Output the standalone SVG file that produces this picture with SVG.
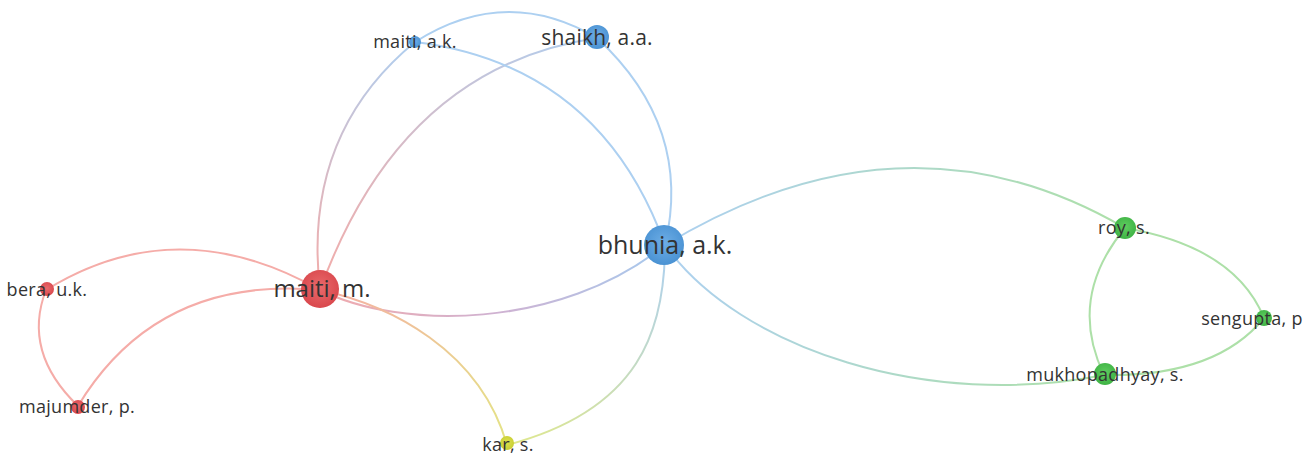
<svg xmlns="http://www.w3.org/2000/svg" width="1311" height="455" viewBox="0 0 1311 455">
  <style>
    .edge { fill: none; stroke-linecap: round; stroke-width: 2; }
    .red-e { stroke: #f5aca8; }
    .blue-e { stroke: #add0f1; }
    .green-e { stroke: #ade0a8; }
    .lbl { font-family: "Open Sans", "Noto Sans", "DejaVu Sans", sans-serif; fill: #333333; text-anchor: middle; }
    .s { font-size: 18px; letter-spacing: 0.3px; }
    .m { font-size: 21px; letter-spacing: 0.2px; }
    .mm { font-size: 24px; }
    .l { font-size: 25px; }
  </style>
  <defs>
    <radialGradient id="nRed" cx="50%" cy="45%" r="55%">
      <stop offset="0" stop-color="#ea6a6c"/>
      <stop offset="1" stop-color="#d9484d"/>
    </radialGradient>
    <radialGradient id="nBlue" cx="50%" cy="45%" r="55%">
      <stop offset="0" stop-color="#6eaee6"/>
      <stop offset="1" stop-color="#4a92d3"/>
    </radialGradient>
    <radialGradient id="nGreen" cx="50%" cy="45%" r="55%">
      <stop offset="0" stop-color="#5fcd5f"/>
      <stop offset="1" stop-color="#3fb345"/>
    </radialGradient>
    <radialGradient id="nYellow" cx="50%" cy="45%" r="55%">
      <stop offset="0" stop-color="#dde24e"/>
      <stop offset="1" stop-color="#c8cd33"/>
    </radialGradient>
    <linearGradient id="gMmAk" gradientUnits="userSpaceOnUse" x1="320" y1="290" x2="415" y2="42">
      <stop offset="0" stop-color="#f3aca9"/>
      <stop offset="1" stop-color="#afcff0"/>
    </linearGradient>
    <linearGradient id="gMmSh" gradientUnits="userSpaceOnUse" x1="320" y1="290" x2="597" y2="38">
      <stop offset="0" stop-color="#f3aca9"/>
      <stop offset="1" stop-color="#afcff0"/>
    </linearGradient>
    <linearGradient id="gMmBh" gradientUnits="userSpaceOnUse" x1="320" y1="290" x2="665" y2="245">
      <stop offset="0" stop-color="#f1aaac"/>
      <stop offset="0.5" stop-color="#cfb2d2"/>
      <stop offset="1" stop-color="#a6caee"/>
    </linearGradient>
    <linearGradient id="gMmKar" gradientUnits="userSpaceOnUse" x1="320" y1="290" x2="507" y2="445">
      <stop offset="0" stop-color="#f5aea4"/>
      <stop offset="1" stop-color="#e4e486"/>
    </linearGradient>
    <linearGradient id="gBhKar" gradientUnits="userSpaceOnUse" x1="665" y1="245" x2="507" y2="445">
      <stop offset="0" stop-color="#add0f1"/>
      <stop offset="1" stop-color="#e0e88b"/>
    </linearGradient>
    <linearGradient id="gBhRoy" gradientUnits="userSpaceOnUse" x1="665" y1="245" x2="1125" y2="228">
      <stop offset="0" stop-color="#add0f1"/>
      <stop offset="1" stop-color="#ade0a8"/>
    </linearGradient>
    <linearGradient id="gBhMuk" gradientUnits="userSpaceOnUse" x1="665" y1="245" x2="1104" y2="375">
      <stop offset="0" stop-color="#add0f1"/>
      <stop offset="1" stop-color="#ade0a8"/>
    </linearGradient>
  </defs>

  <!-- links -->
  <g id="links">
    <path class="edge blue-e" d="M415,42 Q506,-16 597,38"/>
    <path class="edge" stroke="url(#gMmAk)" d="M320,290 Q302,135 415,42"/>
    <path class="edge" stroke="url(#gMmSh)" d="M320,290 Q401,67 597,38"/>
    <path class="edge blue-e" d="M415,42 Q600,65 665,245"/>
    <path class="edge blue-e" stroke-width="3.5" d="M597,38 Q693,127 665,245"/>
    <path class="edge" stroke="url(#gMmBh)" stroke-width="4.5" d="M320,290 C400,330 560,330 665,245"/>
    <path class="edge" stroke="url(#gMmKar)" d="M320,290 C390,305 480,350 507,445"/>
    <path class="edge" stroke="url(#gBhKar)" d="M665,245 C665,330 640,410 507,445"/>
    <path class="edge red-e" d="M46,290 Q177,209 320,290"/>
    <path class="edge red-e" d="M78,406 C130,320 210,280 320,290"/>
    <path class="edge red-e" d="M46,290 Q22,352 78,406"/>
    <path class="edge" stroke="url(#gBhRoy)" d="M665,245 Q905,100 1125,228"/>
    <path class="edge" stroke="url(#gBhMuk)" d="M665,245 C740,350 930,410 1104,375"/>
    <path class="edge green-e" d="M1125,228 Q1067,298 1104,375"/>
    <path class="edge green-e" d="M1125,228 Q1235,247 1264,318"/>
    <path class="edge green-e" d="M1264,318 Q1216,377 1104,375"/>
  </g>

  <g id="node-bera">
    <circle cx="47" cy="289" r="7" fill="url(#nRed)"/>
    <text class="lbl s" x="47" y="296">bera, u.k.</text>
  </g>
  <g id="node-majumder">
    <circle cx="78" cy="407" r="7" fill="url(#nRed)"/>
    <text class="lbl s" x="77" y="413">majumder, p.</text>
  </g>
  <g id="node-maiti-m">
    <circle cx="320" cy="289" r="19" fill="url(#nRed)"/>
    <text class="lbl mm" x="322" y="297">maiti, m.</text>
  </g>
  <g id="node-kar">
    <circle cx="507" cy="443" r="7" fill="url(#nYellow)"/>
    <text class="lbl s" x="508" y="451">kar, s.</text>
  </g>
  <g id="node-maiti-ak">
    <circle cx="415" cy="42" r="6" fill="url(#nBlue)"/>
    <text class="lbl s" x="415" y="48">maiti, a.k.</text>
  </g>
  <g id="node-shaikh">
    <circle cx="597" cy="37" r="12" fill="url(#nBlue)"/>
    <text class="lbl m" x="597" y="45">shaikh, a.a.</text>
  </g>
  <g id="node-bhunia">
    <circle cx="664" cy="245" r="20" fill="url(#nBlue)"/>
    <text class="lbl l" x="665" y="254">bhunia, a.k.</text>
  </g>
  <g id="node-roy">
    <circle cx="1125" cy="228" r="11" fill="url(#nGreen)"/>
    <text class="lbl s" x="1124" y="234">roy, s.</text>
  </g>
  <g id="node-sengupta">
    <circle cx="1264" cy="318" r="8" fill="url(#nGreen)"/>
    <text class="lbl s" x="1252" y="325">sengupta, p</text>
  </g>
  <g id="node-mukhopadhyay">
    <circle cx="1105" cy="374" r="11" fill="url(#nGreen)"/>
    <text class="lbl s" x="1105" y="381" letter-spacing="0.6">mukhopadhyay, s.</text>
  </g>
</svg>
